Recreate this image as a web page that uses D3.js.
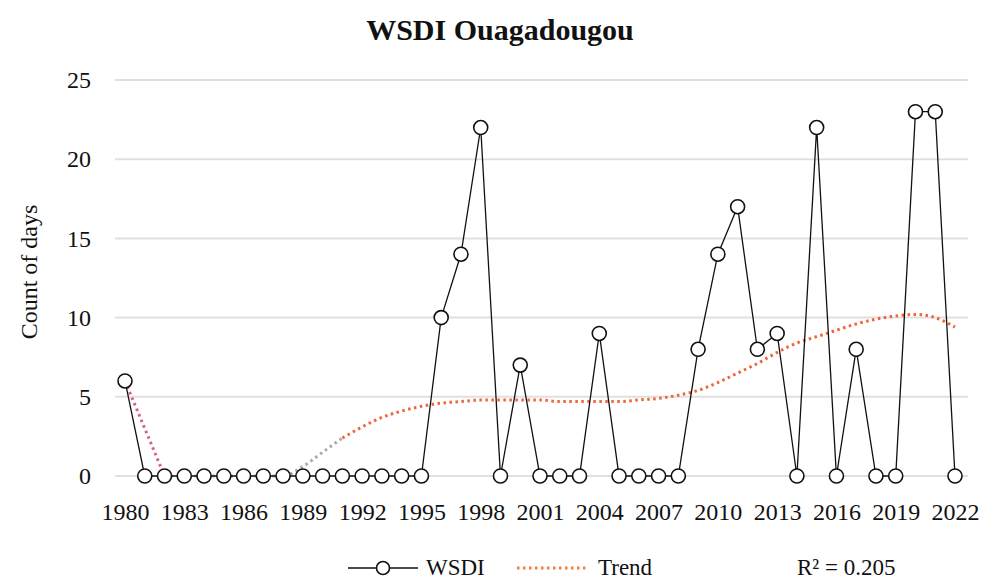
<!DOCTYPE html>
<html>
<head>
<meta charset="utf-8">
<script src="https://cdn.jsdelivr.net/npm/d3@7"></script>
<style>
  body { margin: 0; background: #fff; }
  text { font-family: "Palatino Linotype", "Book Antiqua", "Liberation Serif", "DejaVu Serif", serif; fill: #111; }
</style>
</head>
<body>
<svg width="981" height="581"></svg>
<script>
// data
var years = d3.range(1980, 2023);
var wsdi = [6, 0, 0, 0, 0, 0, 0, 0, 0, 0, 0, 0, 0, 0, 0, 0,
            10, 14, 22, 0, 7, 0, 0, 0, 9, 0, 0, 0, 0, 8,
            14, 17, 8, 9, 0, 22, 0, 8, 0, 0, 23, 23, 0];
var trend = [6, 3, 0, 0, 0, 0, 0, 0, 0, 0.6, 1.5, 2.4, 3.1, 3.7, 4.1, 4.4,
             4.6, 4.7, 4.8, 4.8, 4.8, 4.8, 4.7, 4.7, 4.7, 4.7, 4.8, 4.9, 5.1, 5.4,
             5.9, 6.5, 7.1, 7.8, 8.4, 8.8, 9.2, 9.6, 9.9, 10.1, 10.2, 10.0, 9.4];
var yTicks = [0, 5, 10, 15, 20, 25];
var xTickYears = d3.range(1980, 2023, 3);

var svg = d3.select("svg");
var x = d3.scaleLinear().domain([1980, 2022]).range([125, 955]);
var y = d3.scaleLinear().domain([0, 25]).range([476, 80]);
var fontStack = "'Palatino Linotype','Book Antiqua','Liberation Serif',serif";

// title
svg.append("text").attr("x", 500).attr("y", 40).attr("text-anchor", "middle")
    .style("font-size", "30px").style("font-weight", "bold").text("WSDI Ouagadougou");

// gridlines
svg.append("g").selectAll("line").data(yTicks).enter().append("line")
    .attr("x1", 115).attr("x2", 968)
    .attr("y1", function(d) { return y(d); }).attr("y2", function(d) { return y(d); })
    .attr("stroke", "#e0e0e0").attr("stroke-width", 2);

// y axis labels
var yAxis = d3.axisLeft(y).tickValues(yTicks).tickSize(0).tickPadding(0);
svg.append("g").attr("transform", "translate(91,0)").call(yAxis)
    .call(function(g) { g.select(".domain").remove(); })
    .selectAll("text").style("font-size", "24px").attr("fill", "#111")
    .style("font-family", fontStack);

// x axis labels
var xAxis = d3.axisBottom(x).tickValues(xTickYears).tickFormat(d3.format("d")).tickSize(0).tickPadding(0);
svg.append("g").attr("transform", "translate(0,503)").call(xAxis)
    .call(function(g) { g.select(".domain").remove(); })
    .selectAll("text").style("font-size", "24px").attr("fill", "#111")
    .style("font-family", fontStack);

// y axis title
svg.append("text").attr("transform", "translate(37,272) rotate(-90)")
    .attr("text-anchor", "middle").style("font-size", "24px").text("Count of days");

// trend line, in three colour pieces as in the picture
var trendPts = years.map(function(yr, i) { return [yr, trend[i]]; });
var tLine = d3.line().x(function(d) { return x(d[0]); }).y(function(d) { return y(d[1]); })
    .curve(d3.curveMonotoneX);
var pieces = [
  { from: 1980, to: 1982, color: "#d8607a" },
  { from: 1982, to: 1991, color: "#a8a8a8" },
  { from: 1991, to: 2022, color: "#f0643a" }
];
pieces.forEach(function(p) {
  svg.append("path")
      .datum(trendPts.filter(function(d) { return d[0] >= p.from && d[0] <= p.to; }))
      .attr("d", tLine).attr("fill", "none").attr("stroke", p.color)
      .attr("stroke-width", 3).attr("stroke-dasharray", "2.5,3.5");
});

// WSDI line
var line = d3.line().x(function(d, i) { return x(years[i]); }).y(function(d) { return y(d); });
svg.append("path").datum(wsdi).attr("d", line)
    .attr("fill", "none").attr("stroke", "#111").attr("stroke-width", 1.3);

svg.append("g").selectAll("circle").data(wsdi).enter().append("circle")
    .attr("cx", function(d, i) { return x(years[i]); })
    .attr("cy", function(d) { return y(d); })
    .attr("r", 7).attr("fill", "#fff").attr("stroke", "#111").attr("stroke-width", 1.6);

// legend
var lg = svg.append("g");
lg.append("line").attr("x1", 348).attr("x2", 418).attr("y1", 568).attr("y2", 568)
    .attr("stroke", "#111").attr("stroke-width", 1.3);
lg.append("circle").attr("cx", 383).attr("cy", 568).attr("r", 6.5)
    .attr("fill", "#fff").attr("stroke", "#111").attr("stroke-width", 1.6);
lg.append("text").attr("x", 426).attr("y", 575).style("font-size", "23px").text("WSDI");
lg.append("line").attr("x1", 517).attr("x2", 589).attr("y1", 568).attr("y2", 568)
    .attr("stroke", "#f4803c").attr("stroke-width", 3).attr("stroke-dasharray", "2.5,3.5");
lg.append("text").attr("x", 598).attr("y", 575).style("font-size", "23px").text("Trend");
lg.append("text").attr("x", 797).attr("y", 575).style("font-size", "23px").text("R² = 0.205");
</script>
</body>
</html>
